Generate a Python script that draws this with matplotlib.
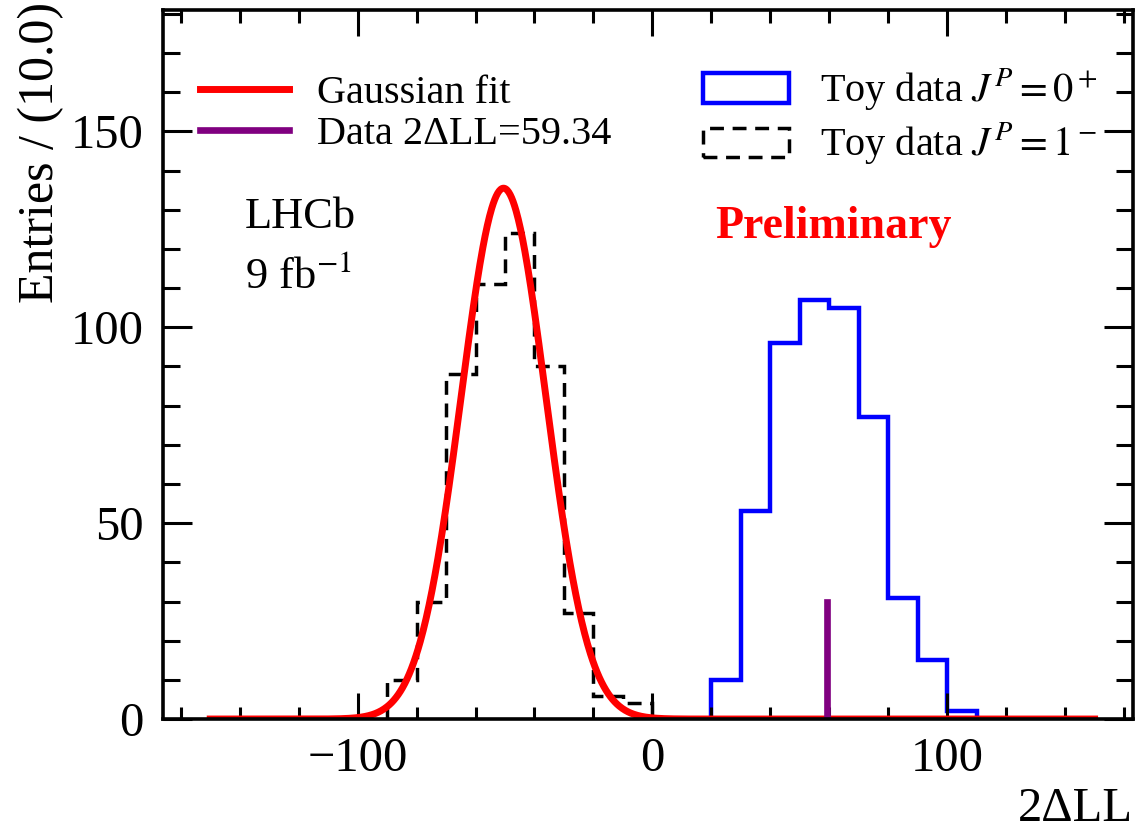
import numpy as np
import matplotlib.pyplot as plt
from matplotlib.lines import Line2D
from matplotlib.patches import Patch

plt.rcParams['font.family'] = ['Liberation Serif', 'DejaVu Serif']
plt.rcParams['mathtext.fontset'] = 'stix'

# toy histograms, bin width 10
bin_width = 10
toy0_start = 20      # J^P = 0+
toy0_counts = [10, 53, 96, 107, 105, 77, 31, 15, 2]
toy1_start = -90     # J^P = 1-
toy1_counts = [10, 30, 88, 111, 124, 90, 27, 6, 4]

# gaussian fit to the 1- toys
fit_mean = -50.5
fit_sigma = 14.4
fit_peak = 135.5
fit_range = (-150, 150)

# observed value
data_val = 59.34
data_height = 30

fig = plt.figure(figsize=(11.37, 8.30), dpi=100)
ax = fig.add_axes([0.1434, 0.1337, 0.853, 0.8543])

e0 = toy0_start + bin_width * np.arange(len(toy0_counts) + 1)
e1 = toy1_start + bin_width * np.arange(len(toy1_counts) + 1)
ax.stairs(toy0_counts, e0, color='#0000ff', lw=3.2, baseline=0)
ax.stairs(toy1_counts, e1, color='black', lw=2.5, ls=(0, (4, 2.5)), baseline=0)

xs = np.linspace(fit_range[0], fit_range[1], 1201)
ax.plot(xs, fit_peak * np.exp(-0.5 * ((xs - fit_mean) / fit_sigma) ** 2),
        color='#ff0000', lw=5)
ax.plot([data_val, data_val], [0, data_height], color='#800080', lw=4.8)

ax.set_xlim(-166, 163)
ax.set_ylim(0, 181)
ax.set_xticks([-100, 0, 100])
ax.set_xticks(np.arange(-160, 161, 20), minor=True)
ax.set_yticks([0, 50, 100, 150])
ax.set_yticks(np.arange(0, 181, 10), minor=True)
ax.tick_params(which='both', direction='in', top=True, right=True, width=2.2)
ax.tick_params(axis='x', which='major', length=19, labelsize=35, pad=13)
ax.tick_params(axis='x', which='minor', length=9)
ax.tick_params(axis='y', which='major', length=21, labelsize=35, pad=14)
ax.tick_params(axis='y', which='minor', length=12)
for s in ax.spines.values():
    s.set_linewidth(2.6)

ax.set_xlabel('2ΔLL', fontsize=35, loc='right')
ax.xaxis.set_label_coords(1.0, -0.096)
ax.set_ylabel('Entries / (10.0)', fontsize=36, loc='top')
ax.yaxis.set_label_coords(-0.102, 1.012)

h1 = [Line2D([], [], color='#ff0000', lw=5), Line2D([], [], color='#800080', lw=4.8)]
leg1 = ax.legend(h1, ['Gaussian fit', 'Data 2ΔLL=59.34'], loc='upper left',
                 bbox_to_anchor=(0.038, 0.909), frameon=False, fontsize=29,
                 borderpad=0, borderaxespad=0,
                 handlelength=2.2, handletextpad=0.7, labelspacing=0.1)
ax.add_artist(leg1)
h2 = [Patch(facecolor='none', edgecolor='#0000ff', lw=3.2),
      Patch(facecolor='none', edgecolor='black', lw=2.5, ls=(0, (4, 2.5)))]
ax.legend(h2, ['Toy data $J^P=0^+$', 'Toy data $J^P=1^-$'], loc='upper left',
          bbox_to_anchor=(0.557, 0.92), frameon=False, fontsize=29,
          borderpad=0, borderaxespad=0,
          handlelength=2.13, handleheight=0.75, handletextpad=0.77, labelspacing=0.2)

ax.text(0.084, 0.6925, 'LHCb', transform=ax.transAxes, fontsize=32)
ax.text(0.084, 0.608, '9 fb$^{-1}$', transform=ax.transAxes, fontsize=32)
ax.text(0.691, 0.678, 'Preliminary', transform=ax.transAxes, fontsize=33,
        color='#ff0000', fontweight='bold', ha='center')

fig.savefig('out.png', dpi=100)
